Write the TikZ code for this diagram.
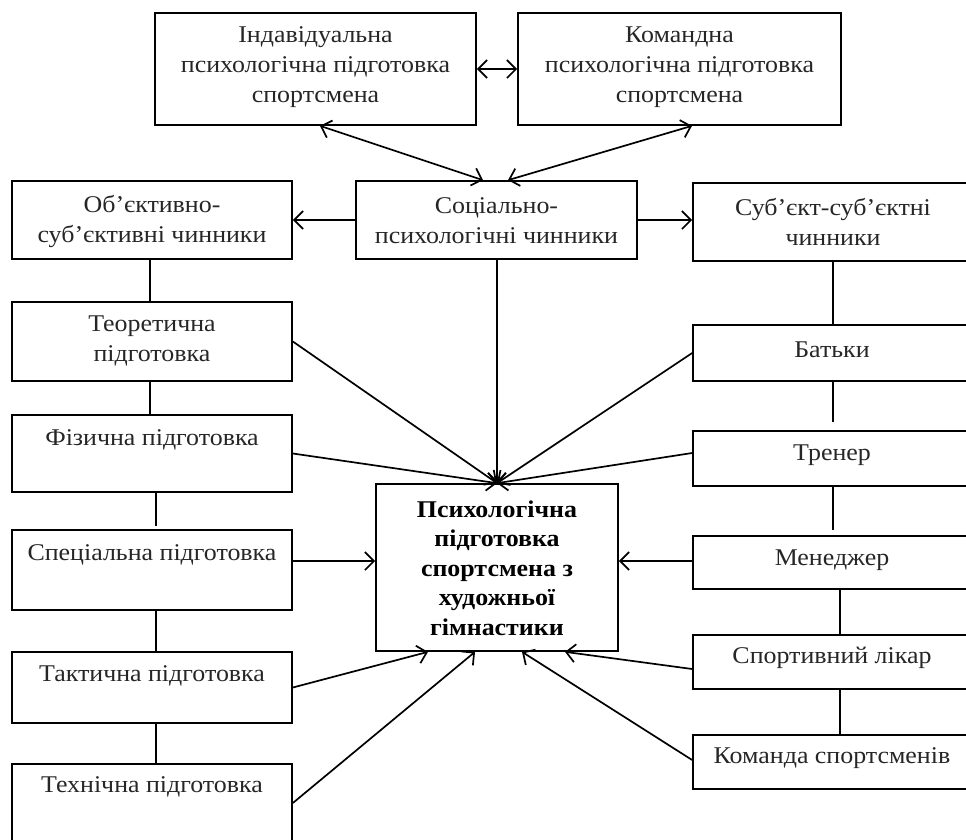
\documentclass[tikz,border=0pt]{standalone}
\usepackage{fontspec}
\setmainfont{Liberation Serif}[FakeStretch=1.08]
\usetikzlibrary{arrows.meta,calc}
\begin{document}
\begin{tikzpicture}[x=1pt,y=-1pt,
  box/.style={draw, line width=1.7pt, inner sep=0pt},
  txt/.style={align=center, inner sep=0pt, text=black!85, font=\fontsize{24}{30}\selectfont},
  btxt/.style={txt, text=black, font=\fontsize{24}{29.5}\selectfont\bfseries},
  link/.style={line width=1.7pt},
  arr/.style={line width=1.7pt, -{Straight Barb[length=9pt,width=18pt,line width=1.7pt]}},
  darr/.style={line width=1.7pt, {Straight Barb[length=9pt,width=18pt,line width=1.7pt]}-{Straight Barb[length=9pt,width=18pt,line width=1.7pt]}}]
\useasboundingbox (0,0) rectangle (966,839);
\clip (0,0) rectangle (966,839);
% boxes
\node[box, minimum width=321pt, minimum height=112pt] (indiv) at (315.5,69) {};
\node[box, minimum width=323pt, minimum height=112pt] (komand) at (679.5,69) {};
\node[box, minimum width=281pt, minimum height=78pt] (social) at (496.5,220) {};
\node[box, minimum width=280pt, minimum height=78pt] (obj) at (152,220) {};
\node[box, minimum width=282pt, minimum height=78pt] (subj) at (834,222) {};
\node[box, minimum width=280pt, minimum height=79pt] (theor) at (152,341.5) {};
\node[box, minimum width=280pt, minimum height=77pt] (phys) at (152,453.5) {};
\node[box, minimum width=280pt, minimum height=80pt] (spec) at (152,570) {};
\node[box, minimum width=280pt, minimum height=71pt] (tact) at (152,687.5) {};
\node[box, minimum width=280pt, minimum height=78pt] (tech) at (152,803) {};
\node[box, minimum width=242pt, minimum height=167pt] (ctr) at (497,567.5) {};
\node[box, minimum width=282pt, minimum height=56pt] (batky) at (834,353) {};
\node[box, minimum width=282pt, minimum height=55pt] (trener) at (834,458.5) {};
\node[box, minimum width=282pt, minimum height=53pt] (manager) at (834,562.5) {};
\node[box, minimum width=282pt, minimum height=54pt] (doctor) at (834,662) {};
\node[box, minimum width=282pt, minimum height=54pt] (team) at (834,762) {};
% texts
\node[txt] (tindiv) at (315.5,67) {Індавідуальна\\психологічна підготовка\\спортсмена};
\node[txt] (tkomand) at (679.5,67) {Командна\\психологічна підготовка\\спортсмена};
\node[txt] (tsocial) at (496.5,221) {Соціально-\\психологічні чинники};
\node[txt] (tobj) at (152,221) {Об’єктивно-\\суб’єктивні чинники};
\node[txt] (tsubj) at (833,222) {Суб’єкт-суб’єктні\\чинники};
\node[txt] (ttheor) at (152,341) {Теоретична\\підготовка};
\node[txt] (tphys) at (152,440) {Фізична підготовка};
\node[txt] (tspec) at (152,555) {Спеціальна підготовка};
\node[txt] (ttact) at (152,676) {Тактична підготовка};
\node[txt] (ttech) at (152,787) {Технічна підготовка};
\node[btxt] (tctr) at (497,568) {Психологічна\\підготовка\\спортсмена з\\художньої\\гімнастики};
\node[txt] (tbatky) at (832,350) {Батьки};
\node[txt] (ttrener) at (832,455) {Тренер};
\node[txt] (tmanager) at (832,560) {Менеджер};
\node[txt] (tdoctor) at (832,658) {Спортивний лікар};
\node[txt] (tteam) at (832,758) {Команда спортсменів};
% helper coordinates
\coordinate (lx1) at (150,0);
\coordinate (lx2) at (156,0);
\coordinate (rx1) at (833,0);
\coordinate (rx2) at (840,0);
\coordinate (specout) at ([yshift=9pt]spec.east);
\coordinate (manout) at ([yshift=1.5pt]manager.west);
% plain links
\draw[link] (obj.south -| lx1) -- (theor.north -| lx1);
\draw[link] (theor.south -| lx1) -- (phys.north -| lx1);
\draw[link] (phys.south -| lx2) -- ([yshift=3pt]spec.north -| lx2);
\draw[link] (spec.south -| lx2) -- (tact.north -| lx2);
\draw[link] (tact.south -| lx2) -- (tech.north -| lx2);
\draw[link] (subj.south -| rx1) -- (batky.north -| rx1);
\draw[link] (batky.south -| rx1) -- ([yshift=8pt]trener.north -| rx1);
\draw[link] (trener.south -| rx1) -- ([yshift=5pt]manager.north -| rx1);
\draw[link] (manager.south -| rx2) -- (doctor.north -| rx2);
\draw[link] (doctor.south -| rx2) -- (team.north -| rx2);
% arrows
\draw[darr] (indiv.east) -- (komand.west |- indiv.east);
\draw[darr] ([xshift=4.5pt]indiv.south) -- ([xshift=-13.5pt]social.north);
\draw[darr] ([xshift=12.5pt]komand.south) -- ([xshift=11.5pt]social.north);
\draw[arr] (social.west) -- (obj.east);
\draw[arr] (social.east) -- (subj.west |- social.east);
\draw[arr] (social.south -| ctr.north) -- (ctr.north);
\draw[arr] (theor.east) -- (ctr.north);
\draw[arr] (phys.east) -- (ctr.north);
\draw[arr] (batky.west) -- (ctr.north);
\draw[arr] ([yshift=5.5pt]trener.west) -- (ctr.north);
\draw[arr] (specout) -- (ctr.west |- specout);
\draw[arr] (manout) -- (ctr.east |- manout);
\draw[arr] (tact.east) -- ([xshift=-69pt]ctr.south);
\draw[arr] (tech.east) -- ([xshift=-22pt]ctr.south);
\draw[arr] ([yshift=-7pt]doctor.west) -- ([xshift=68pt]ctr.south);
\draw[arr] ([yshift=2pt]team.west) -- ([xshift=25pt]ctr.south);
\end{tikzpicture}
\end{document}
